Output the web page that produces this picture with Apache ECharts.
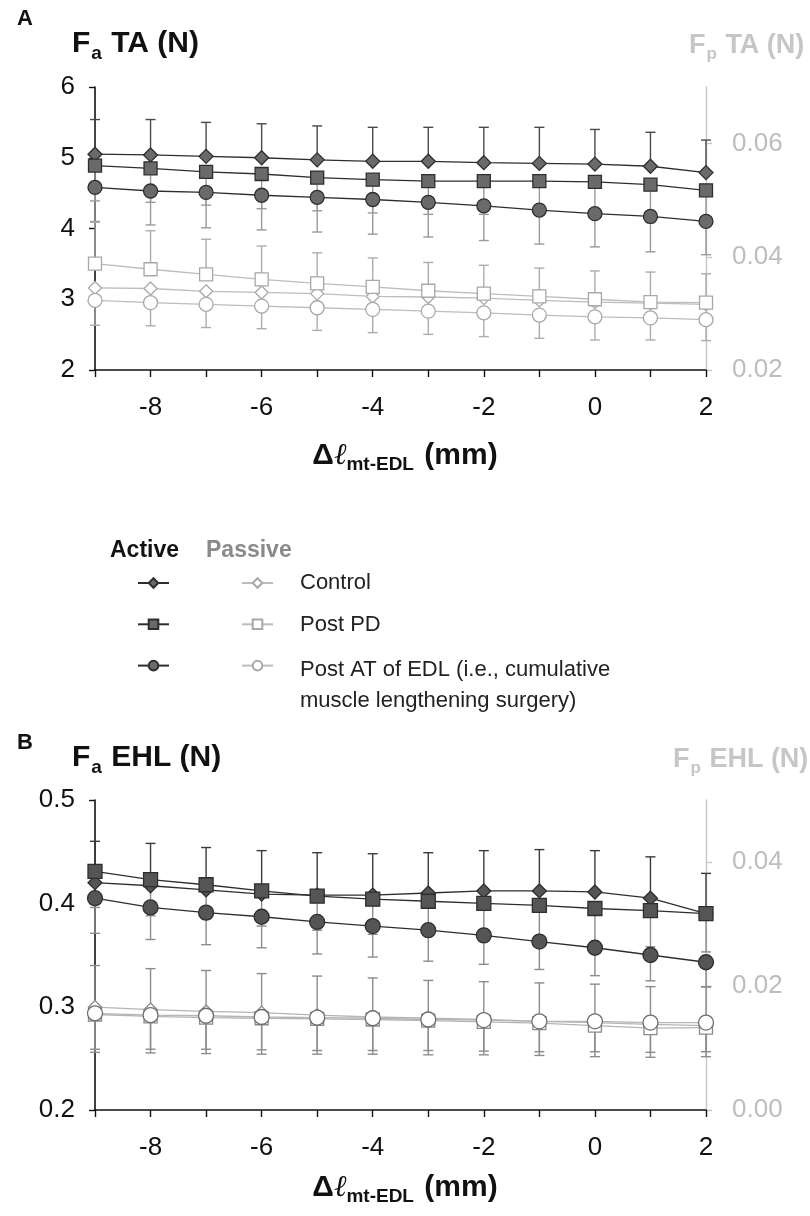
<!DOCTYPE html>
<html>
<head>
<meta charset="utf-8">
<script src="https://cdn.jsdelivr.net/npm/echarts@6/dist/echarts.min.js"></script>
<style>
html,body{margin:0;padding:0;background:#fff;}
#chart{width:810px;height:1216px;}
</style>
</head>
<body>
<div id="chart"></div>
<script>
// ---------- data ----------
const xs = [-9, -8, -7, -6, -5, -4, -3, -2, -1, 0, 1, 2];
const xTickLabels = [-8, -6, -4, -2, 0, 2];

// Panel A: TA, active (left axis, N)
const taActiveControl   = [5.05, 5.04, 5.02, 5.00, 4.97, 4.95, 4.95, 4.93, 4.92, 4.91, 4.88, 4.79];
const taActiveControlSD = [0.49, 0.50, 0.48, 0.48, 0.48, 0.48, 0.48, 0.50, 0.51, 0.49, 0.48, 0.46];
const taActivePostPD    = [4.89, 4.85, 4.80, 4.77, 4.72, 4.69, 4.67, 4.67, 4.67, 4.66, 4.62, 4.54];
const taActivePostPDSD  = [0.50, 0.48, 0.47, 0.49, 0.47, 0.47, 0.47, 0.47, 0.47, 0.46, 0.46, 0.45];
const taActivePostAT    = [4.58, 4.53, 4.51, 4.47, 4.44, 4.41, 4.37, 4.32, 4.26, 4.21, 4.17, 4.10];
const taActivePostATSD  = [0.48, 0.48, 0.50, 0.49, 0.49, 0.49, 0.49, 0.49, 0.48, 0.47, 0.50, 0.47];
// Panel A: TA, passive (right axis, N)
const taPassiveControl   = [0.0345, 0.0344, 0.0339, 0.0337, 0.0335, 0.0330, 0.0329, 0.0327, 0.0323, 0.0320, 0.0318, 0.0316];
const taPassivePostPD    = [0.0388, 0.0378, 0.0369, 0.0360, 0.0353, 0.0347, 0.0340, 0.0335, 0.0330, 0.0325, 0.0320, 0.0319];
const taPassivePostPDSD  = [0.0073, 0.0068, 0.0062, 0.0059, 0.0054, 0.0051, 0.0050, 0.0050, 0.0050, 0.0050, 0.0053, 0.0051];
const taPassivePostAT    = [0.0323, 0.0319, 0.0316, 0.0313, 0.0310, 0.0307, 0.0304, 0.0301, 0.0297, 0.0294, 0.0292, 0.0289];
const taPassivePostATSD  = [0.0044, 0.0041, 0.0041, 0.0040, 0.0040, 0.0041, 0.0041, 0.0042, 0.0041, 0.0041, 0.0039, 0.0037];

// Panel B: EHL, active (left axis, N)
const ehlActiveControl   = [0.420, 0.417, 0.413, 0.409, 0.408, 0.408, 0.410, 0.412, 0.412, 0.411, 0.405, 0.390];
const ehlActiveControlSD = [0.040, 0.041, 0.041, 0.042, 0.041, 0.040, 0.039, 0.039, 0.040, 0.040, 0.040, 0.039];
const ehlActivePostPD    = [0.431, 0.423, 0.418, 0.412, 0.407, 0.404, 0.402, 0.400, 0.398, 0.395, 0.393, 0.390];
const ehlActivePostPDSD  = [0.035, 0.035, 0.033, 0.034, 0.033, 0.034, 0.033, 0.034, 0.034, 0.035, 0.035, 0.037];
const ehlActivePostAT    = [0.405, 0.396, 0.391, 0.387, 0.382, 0.378, 0.374, 0.369, 0.363, 0.357, 0.350, 0.343];
const ehlActivePostATSD  = [0.034, 0.031, 0.031, 0.030, 0.031, 0.030, 0.030, 0.028, 0.027, 0.027, 0.025, 0.024];
// Panel B: EHL, passive (right axis, N)
const ehlPassiveControl   = [0.0166, 0.0162, 0.0159, 0.0157, 0.0153, 0.0150, 0.0148, 0.0146, 0.0143, 0.0141, 0.0138, 0.0136];
const ehlPassiveControlSD = [0.0067, 0.0066, 0.0066, 0.0063, 0.0063, 0.0063, 0.0061, 0.0061, 0.0062, 0.0062, 0.0061, 0.0063];
const ehlPassivePostPD    = [0.0154, 0.0151, 0.0149, 0.0148, 0.0147, 0.0146, 0.0144, 0.0142, 0.0140, 0.0136, 0.0132, 0.0133];
const ehlPassivePostPDSD  = [0.0061, 0.0059, 0.0058, 0.0058, 0.0057, 0.0056, 0.0055, 0.0053, 0.0052, 0.0050, 0.0047, 0.0047];
const ehlPassivePostAT    = [0.0156, 0.0153, 0.0152, 0.0150, 0.0149, 0.0148, 0.0146, 0.0145, 0.0143, 0.0143, 0.0141, 0.0141];
const ehlPassivePostATSD  = [0.0058, 0.0055, 0.0054, 0.0053, 0.0053, 0.0052, 0.0050, 0.0050, 0.0049, 0.0049, 0.0048, 0.0047];

const taLeftTicks = [2, 3, 4, 5, 6];
const taRightTicks = [0.02, 0.04, 0.06];
const ehlLeftTicks = [0.2, 0.3, 0.4, 0.5];
const ehlRightTicks = [0, 0.02, 0.04];

const names = {
  ac: 'Control (active)', ap: 'Post PD (active)', aa: 'Post AT of EDL (active)',
  pc: 'Control', pp: 'Post PD', pa: 'Post AT of EDL (i.e., cumulative muscle lengthening surgery)'
};

// ---------- styling ----------
const FONT = 'Liberation Sans';
const INK = '#111111';
const RIGHT_GREY = '#c3c3c3';
const ACT_FILL = '#6a6a6a', ACT_EDGE = '#2e2e2e', ACT_LINE = '#2e2e2e';
const TICK_FONT = 26;

const chart = echarts.init(document.getElementById('chart'), null, {renderer: 'canvas'});

function pairs(vals) { return xs.map((x, i) => [x, vals[i]]); }
function errData(vals, sds, dir) { return xs.map((x, i) => [x, vals[i], dir * sds[i]]); }

function errSeries(gi, yi, vals, sds, dir, color) {
  return {
    type: 'custom', xAxisIndex: gi, yAxisIndex: yi, z: 1, silent: true,
    data: errData(vals, sds, dir),
    renderItem: function (params, api) {
      const x = api.value(0), y = api.value(1), e = api.value(2);
      const p0 = api.coord([x, y]);
      const p1 = api.coord([x, y + e]);
      const st = {stroke: color, lineWidth: 1.4};
      return {type: 'group', children: [
        {type: 'line', shape: {x1: p0[0], y1: p0[1], x2: p1[0], y2: p1[1]}, style: st},
        {type: 'line', shape: {x1: p1[0] - 5, y1: p1[1], x2: p1[0] + 5, y2: p1[1]}, style: st}
      ]};
    }
  };
}

function lineSeries(name, gi, yi, vals, symbol, size, fill, edge, lineColor) {
  return {
    name: name, type: 'line', xAxisIndex: gi, yAxisIndex: yi, z: 3,
    data: pairs(vals), symbol: symbol, symbolSize: size, showSymbol: true,
    lineStyle: {color: lineColor, width: 1.3},
    itemStyle: {color: fill, borderColor: edge, borderWidth: 1.3},
    emphasis: {disabled: true}
  };
}

function xAxisCfg(gi) {
  return {
    type: 'value', gridIndex: gi, min: -9, max: 2, interval: 1,
    axisLine: {onZero: false, lineStyle: {color: INK, width: 1.6}},
    axisTick: {show: true, length: 7, customValues: xs, lineStyle: {color: INK, width: 1.4}},
    axisLabel: {customValues: xTickLabels, fontFamily: FONT, fontSize: TICK_FONT, color: INK, margin: 25},
    splitLine: {show: false}
  };
}
function leftAxisCfg(gi, min, max, ticks, fmt) {
  return {
    type: 'value', gridIndex: gi, position: 'left', min: min, max: max,
    axisLine: {show: true, onZero: false, lineStyle: {color: INK, width: 1.6}},
    axisTick: {show: true, length: 6, customValues: ticks, lineStyle: {color: INK, width: 1.4}},
    axisLabel: {customValues: ticks, fontFamily: FONT, fontSize: TICK_FONT, color: INK, margin: 20, formatter: fmt},
    splitLine: {show: false}
  };
}
function rightAxisCfg(gi, min, max, ticks) {
  return {
    type: 'value', gridIndex: gi, position: 'right', min: min, max: max,
    axisLine: {show: true, onZero: false, lineStyle: {color: RIGHT_GREY, width: 1.3}},
    axisTick: {show: true, length: 6, customValues: ticks, lineStyle: {color: RIGHT_GREY, width: 1.3}},
    axisLabel: {customValues: ticks, fontFamily: FONT, fontSize: TICK_FONT, color: '#bdbdbd', margin: 26,
      formatter: v => v.toFixed(2)},
    splitLine: {show: false}
  };
}

function richLabel(main, sub, rest, color, size, subSize) {
  return {
    text: '{b|' + main + '}{s|' + sub + '}{b|' + rest + '}',
    rich: {
      b: {fontFamily: FONT, fontSize: size, fontWeight: 'bold', fill: color, lineHeight: size + 2, verticalAlign: 'top'},
      s: {fontFamily: FONT, fontSize: subSize, fontWeight: 'bold', fill: color, lineHeight: subSize + 2,
          padding: [Math.round(size * 0.5), 1, 0, 1], verticalAlign: 'top'}
    }
  };
}
function textEl(x, y, str, opts) {
  return {type: 'text', left: x, top: y, silent: true,
    style: Object.assign({text: str, fontFamily: FONT, fill: INK, fontSize: 22}, opts || {})};
}
function xNameEl(y) {
  return {type: 'text', left: 'center', top: y, silent: true,
    style: {
      text: '{d|Δ}{l|ℓ}{s|mt-EDL}{b| (mm)}',
      rich: {
        d: {fontFamily: FONT, fontSize: 30, fontWeight: 'bold', fill: INK, lineHeight: 32, verticalAlign: 'top'},
        l: {fontFamily: 'DejaVu Serif', fontSize: 30, fontStyle: 'italic', fill: INK, lineHeight: 32, verticalAlign: 'top'},
        s: {fontFamily: FONT, fontSize: 19, fontWeight: 'bold', fill: INK, lineHeight: 21, padding: [14, 2, 0, 0], verticalAlign: 'top'},
        b: {fontFamily: FONT, fontSize: 30, fontWeight: 'bold', fill: INK, lineHeight: 32, verticalAlign: 'top'}
      }
    }};
}

const option = {
  animation: false,
  backgroundColor: '#ffffff',
  textStyle: {fontFamily: FONT},
  grid: [
    {left: 95, top: 87, width: 611, height: 283},
    {left: 95, top: 800, width: 611, height: 310}
  ],
  xAxis: [xAxisCfg(0), xAxisCfg(1)],
  yAxis: [
    leftAxisCfg(0, 2, 6, taLeftTicks, v => String(v)),
    rightAxisCfg(0, 0.02, 0.07, taRightTicks),
    leftAxisCfg(1, 0.2, 0.5, ehlLeftTicks, v => v.toFixed(1)),
    rightAxisCfg(1, 0, 0.05, ehlRightTicks)
  ],
  legend: [
    {data: [names.ac, names.ap, names.aa], orient: 'vertical', left: 132, top: 572,
     itemWidth: 31, itemHeight: 12, itemGap: 29.5, selectedMode: false, formatter: () => '',
     textStyle: {fontSize: 12}},
    {data: [names.pc, names.pp, names.pa], orient: 'vertical', left: 236, top: 572,
     itemWidth: 31, itemHeight: 12, itemGap: 29.5, selectedMode: false, formatter: () => '',
     textStyle: {fontSize: 12}}
  ],
  graphic: [
    textEl(17, 8, 'A', {fontWeight: 'bold', fontSize: 22}),
    {type: 'text', left: 72, top: 29, silent: true, style: richLabel('F', 'a', ' TA (N)', INK, 30, 19)},
    {type: 'text', left: 689, top: 32, silent: true, style: richLabel('F', 'p', ' TA (N)', '#c6c6c6', 27, 17)},
    xNameEl(441),
    textEl(110, 539, 'Active', {fontWeight: 'bold', fontSize: 23, fill: '#111'}),
    textEl(206, 539, 'Passive', {fontWeight: 'bold', fontSize: 23, fill: '#8a8a8a'}),
    textEl(300, 572, 'Control', {fontSize: 22, fill: '#222'}),
    textEl(300, 614, 'Post PD', {fontSize: 22, fill: '#222'}),
    textEl(300, 654, 'Post AT of EDL (i.e., cumulative\nmuscle lengthening surgery)', {fontSize: 22, fill: '#222', lineHeight: 31}),
    textEl(17, 732, 'B', {fontWeight: 'bold', fontSize: 22}),
    {type: 'text', left: 72, top: 743, silent: true, style: richLabel('F', 'a', ' EHL (N)', INK, 30, 19)},
    {type: 'text', left: 673, top: 746, silent: true, style: richLabel('F', 'p', ' EHL (N)', '#c6c6c6', 27, 17)},
    xNameEl(1173)
  ],
  series: [
    // Panel A error bars
    errSeries(0, 0, taActiveControl, taActiveControlSD, 1, '#4a4a4a'),
    errSeries(0, 0, taActivePostPD, taActivePostPDSD, -1, '#9a9a9a'),
    errSeries(0, 0, taActivePostAT, taActivePostATSD, -1, '#9a9a9a'),
    errSeries(0, 1, taPassivePostPD, taPassivePostPDSD, 1, '#adadad'),
    errSeries(0, 1, taPassivePostAT, taPassivePostATSD, -1, '#adadad'),
    // Panel A passive lines
    lineSeries(names.pc, 0, 1, taPassiveControl, 'diamond', 13, '#ffffff', '#a8a8a8', '#bdbdbd'),
    lineSeries(names.pp, 0, 1, taPassivePostPD, 'rect', 13, '#ffffff', '#a8a8a8', '#bdbdbd'),
    lineSeries(names.pa, 0, 1, taPassivePostAT, 'circle', 14, '#ffffff', '#a8a8a8', '#bdbdbd'),
    // Panel A active lines
    lineSeries(names.ac, 0, 0, taActiveControl, 'diamond', 14, ACT_FILL, ACT_EDGE, ACT_LINE),
    lineSeries(names.ap, 0, 0, taActivePostPD, 'rect', 13, ACT_FILL, ACT_EDGE, ACT_LINE),
    lineSeries(names.aa, 0, 0, taActivePostAT, 'circle', 14, ACT_FILL, ACT_EDGE, ACT_LINE),

    // Panel B error bars
    errSeries(1, 2, ehlActiveControl, ehlActiveControlSD, 1, '#3a3a3a'),
    errSeries(1, 2, ehlActivePostPD, ehlActivePostPDSD, -1, '#8c8c8c'),
    errSeries(1, 2, ehlActivePostAT, ehlActivePostATSD, -1, '#8c8c8c'),
    errSeries(1, 3, ehlPassiveControl, ehlPassiveControlSD, 1, '#8c8c8c'),
    errSeries(1, 3, ehlPassivePostPD, ehlPassivePostPDSD, -1, '#8c8c8c'),
    errSeries(1, 3, ehlPassivePostAT, ehlPassivePostATSD, -1, '#8c8c8c'),
    // Panel B passive lines
    lineSeries(names.pc, 1, 3, ehlPassiveControl, 'diamond', 13, '#ffffff', '#8a8a8a', '#b5b5b5'),
    lineSeries(names.pp, 1, 3, ehlPassivePostPD, 'rect', 13, '#ffffff', '#8a8a8a', '#b5b5b5'),
    lineSeries(names.pa, 1, 3, ehlPassivePostAT, 'circle', 15, '#ffffff', '#6e6e6e', '#b5b5b5'),
    // Panel B active lines
    lineSeries(names.ac, 1, 2, ehlActiveControl, 'diamond', 14, '#555555', ACT_EDGE, ACT_LINE),
    lineSeries(names.ap, 1, 2, ehlActivePostPD, 'rect', 14, '#555555', ACT_EDGE, ACT_LINE),
    lineSeries(names.aa, 1, 2, ehlActivePostAT, 'circle', 15, '#555555', ACT_EDGE, ACT_LINE)
  ]
};
chart.setOption(option);
</script>
</body>
</html>
